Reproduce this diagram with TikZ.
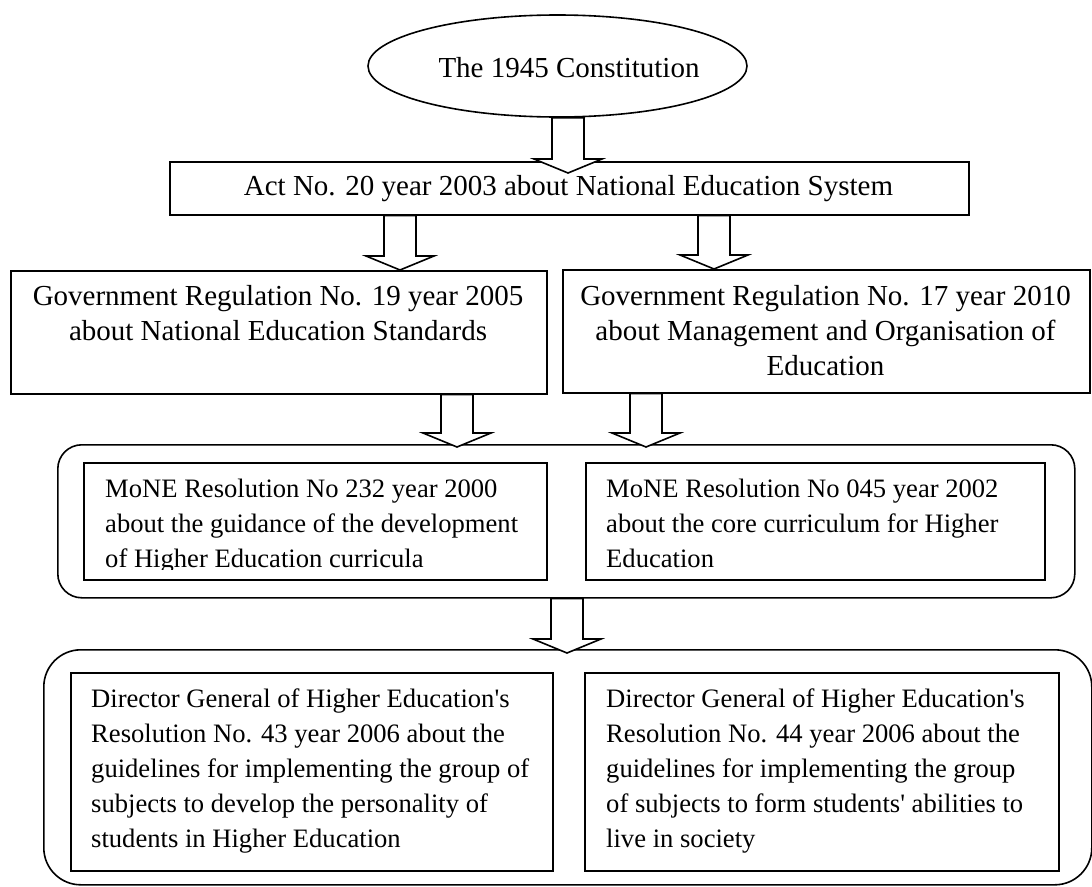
\documentclass[tikz,border=0pt]{standalone}
\usepackage{fontspec}
\setmainfont{Liberation Serif}
\usetikzlibrary{shapes.geometric,calc}

% type sizes: headings of the hierarchy and the resolution texts
\newcommand\bigtype{\fontsize{29}{35}\selectfont}
\newcommand\smalltype{\fontsize{26.6}{35}\selectfont}

\tikzset{
  frame/.style={draw, line width=1.6pt, inner sep=0pt},
  box/.style={frame, rectangle, anchor=north west},
  ctxt/.style={inner sep=0pt, align=center, anchor=north, font=\bigtype},
  ltxt/.style={inner sep=0pt, align=left, anchor=north west, font=\smalltype},
  blockarrow/.style={draw, fill=white, line width=1.6pt, line join=miter},
}

% hollow block arrow: #1 x-position coordinate, #2 source node, #3 target node,
% #4 how far the tip reaches past the top edge of the target
\newcommand\blockarrow[4]{%
  \draw[blockarrow] let \p1 = (#1 |- #2.south), \p2 = (#1 |- #3.north) in
    (\x1-16pt,\y1) -- (\x1-16pt,\y2-#4+14pt) -- (\x1-34pt,\y2-#4+14pt)
    -- (\x1,\y2-#4) -- (\x1+34pt,\y2-#4+14pt) -- (\x1+16pt,\y2-#4+14pt)
    -- (\x1+16pt,\y1) -- cycle;}

\begin{document}
\begin{tikzpicture}[x=1pt, y=-1pt]
  \fill[white] (0,0) rectangle (1092,886);
  \useasboundingbox (0,0) rectangle (1092,886);

  % top: constitution and act
  \node[frame, ellipse, minimum width=379pt, minimum height=102pt] (const) at (557.5,66) {};
  \node[inner sep=0pt, anchor=base, font=\bigtype] (constlbl) at (569,77) {The 1945 Constitution};

  \node[box, minimum width=799pt, minimum height=53pt] (act) at (169,161) {};
  \node[inner sep=0pt, anchor=base, font=\bigtype] (actlbl) at (568.5,195)
    {Act No. 20 year 2003 about National Education System};

  % government regulations
  \node[box, minimum width=536pt, minimum height=123pt] (gov1) at (10,270) {};
  \node[ctxt] (gov1lbl) at (278,280.5)
    {\strut Government Regulation No. 19 year 2005\\about National Education Standards};

  \node[box, minimum width=527pt, minimum height=123pt] (gov2) at (562,269) {};
  \node[ctxt] (gov2lbl) at (825.5,280.5)
    {\strut Government Regulation No. 17 year 2010\\about Management and Organisation of\\Education};

  % ministerial resolutions
  \node[box, rounded corners=24pt, minimum width=1017pt, minimum height=153pt] (grp1) at (57,444) {};
  \node[box, minimum width=463pt, minimum height=117pt] (mone1) at (83,462) {};
  \node[box, minimum width=459pt, minimum height=117pt] (mone2) at (585,462) {};
  \begin{scope}
    \clip (0,0) rectangle (1092,569);
    \node[ltxt] (mone1lbl) at (105,472.5)
      {\strut MoNE Resolution No 232 year 2000\\about the guidance of the development\\of Higher Education curricula};
    \node[ltxt] (mone2lbl) at (606,472.5)
      {\strut MoNE Resolution No 045 year 2002\\about the core curriculum for Higher\\Education};
  \end{scope}

  % director general resolutions
  \node[box, rounded corners=37pt, minimum width=1048pt, minimum height=235pt] (grp2) at (43,649) {};
  \node[box, minimum width=482pt, minimum height=198pt] (dg1) at (70,672) {};
  \node[box, minimum width=474pt, minimum height=198pt] (dg2) at (584,672) {};
  \node[ltxt] (dg1lbl) at (91,682.5)
    {\strut Director General of Higher Education\textquotesingle s\\Resolution No. 43 year 2006 about the\\guidelines for implementing the group of\\subjects to develop the personality of\\students in Higher Education};
  \node[ltxt] (dg2lbl) at (606,682.5)
    {\strut Director General of Higher Education\textquotesingle s\\Resolution No. 44 year 2006 about the\\guidelines for implementing the group\\of subjects to form students\textquotesingle{} abilities to\\live in society};

  % arrow positions
  \coordinate (ax1) at (568,0);
  \coordinate (ax2) at (400,0);
  \coordinate (ax3) at (714,0);
  \coordinate (ax4) at (457,0);
  \coordinate (ax5) at (646,0);
  \coordinate (ax6) at (567,0);

  \blockarrow{ax1}{const}{act}{12pt}
  \blockarrow{ax2}{act}{gov1}{0pt}
  \blockarrow{ax3}{act}{gov2}{0pt}
  \blockarrow{ax4}{gov1}{grp1}{3pt}
  \blockarrow{ax5}{gov2}{grp1}{3pt}
  \blockarrow{ax6}{grp1}{grp2}{4pt}
\end{tikzpicture}
\end{document}
